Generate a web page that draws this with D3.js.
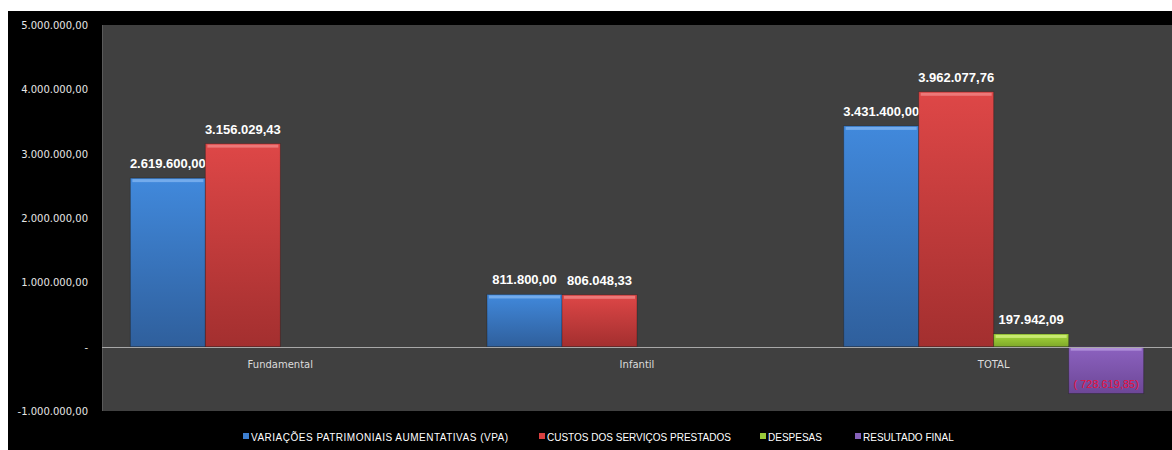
<!DOCTYPE html>
<html>
<head>
<meta charset="utf-8">
<script src="https://cdn.jsdelivr.net/npm/d3@7"></script>
<style>
  html, body { margin: 0; padding: 0; background: #fff; }
  svg { display: block; }
</style>
</head>
<body>
<svg id="chart" width="1172" height="450"></svg>
<script>
const categories = ["Fundamental", "Infantil", "TOTAL"];
const seriesNames = [
  "VARIAÇÕES PATRIMONIAIS AUMENTATIVAS (VPA)",
  "CUSTOS DOS SERVIÇOS PRESTADOS",
  "DESPESAS",
  "RESULTADO FINAL"
];
const vpa = [2619600.00, 811800.00, 3431400.00];
const custos = [3156029.43, 806048.33, 3962077.76];
const despesas = [null, null, 197942.09];
const resultado = [null, null, -728619.85];
const yTicks = [-1000000, 0, 1000000, 2000000, 3000000, 4000000, 5000000];

(() => {
  const width = 1172;
  const height = 450;
  const plot = { left: 102, right: 1172, top: 25, bottom: 411 };

  const colors = [
    { top: "#4189dc", bottom: "#2f5f9c", edge: "#7fb4f0", key: "#3d7fd0" },
    { top: "#de4747", bottom: "#a32f2f", edge: "#f08585", key: "#d84040" },
    { top: "#a6d93b", bottom: "#7fa82a", edge: "#d2f07e", key: "#98c93a" },
    { top: "#8c62c0", bottom: "#6d4797", edge: "#b89ae0", key: "#8560b8" }
  ];

  const allSeries = [vpa, custos, despesas, resultado];

  const svg = d3.select("#chart");
  const defs = svg.append("defs");

  colors.forEach((c, i) => {
    const grad = defs.append("linearGradient")
      .attr("id", "grad" + i)
      .attr("x1", 0).attr("y1", 0).attr("x2", 0).attr("y2", 1);
    grad.append("stop").attr("offset", "0%").attr("stop-color", c.top);
    grad.append("stop").attr("offset", "100%").attr("stop-color", c.bottom);
  });

  // chart background
  svg.append("rect")
    .attr("x", 8).attr("y", 11)
    .attr("width", width - 8).attr("height", height - 11)
    .attr("fill", "#000");

  svg.append("rect")
    .attr("x", plot.left).attr("y", plot.top)
    .attr("width", plot.right - plot.left).attr("height", plot.bottom - plot.top)
    .attr("fill", "#404040");

  svg.append("line")
    .attr("x1", plot.left + 0.5).attr("x2", plot.left + 0.5)
    .attr("y1", plot.top).attr("y2", plot.bottom)
    .attr("stroke", "#5a5a5a");

  const y = d3.scaleLinear()
    .domain([-1000000, 5000000])
    .range([plot.bottom, plot.top]);

  const x = d3.scaleBand()
    .domain(categories)
    .range([plot.left, plot.right]);

  const groupPad = x.bandwidth() * 0.0795;
  const xs = d3.scaleBand()
    .domain(d3.range(seriesNames.length))
    .range([groupPad, x.bandwidth() - groupPad]);

  const fmt = v => {
    const s = d3.format(",.2f")(Math.abs(v))
      .replace(/,/g, "#").replace(".", ",").replace(/#/g, ".");
    return v < 0 ? "( " + s + ")" : s;
  };

  // y axis labels
  svg.append("g")
    .selectAll("text")
    .data(yTicks)
    .join("text")
    .attr("x", 88)
    .attr("y", d => y(d) + 4)
    .attr("text-anchor", "end")
    .attr("fill", "#e6e6e6")
    .style("font-family", "DejaVu Sans, sans-serif")
    .style("font-size", "10px")
    .text(d => d === 0 ? "-" : (d < 0 ? "-" : "") + fmt(Math.abs(d)));

  // bars
  allSeries.forEach((vals, si) => {
    const data = categories.map((c, ci) => ({ cat: c, v: vals[ci] }))
      .filter(d => d.v !== null);

    const g = svg.append("g");

    g.selectAll("rect.bar")
      .data(data)
      .join("rect")
      .attr("class", "bar")
      .attr("x", d => x(d.cat) + xs(si))
      .attr("y", d => y(Math.max(0, d.v)))
      .attr("width", xs.bandwidth())
      .attr("height", d => Math.abs(y(d.v) - y(0)))
      .attr("fill", `url(#grad${si})`)
      .attr("stroke", "rgba(0,0,0,0.25)")
      .attr("stroke-width", 1);

    // bevel highlight on the top edge
    g.selectAll("rect.edge")
      .data(data)
      .join("rect")
      .attr("class", "edge")
      .attr("x", d => x(d.cat) + xs(si) + 2)
      .attr("y", d => y(Math.max(0, d.v)) + 1)
      .attr("width", xs.bandwidth() - 4)
      .attr("height", 3)
      .attr("fill", colors[si].edge)
      .attr("opacity", 0.8);

    g.selectAll("text")
      .data(data)
      .join("text")
      .attr("x", d => x(d.cat) + xs(si) + xs.bandwidth() / 2)
      .attr("y", d => d.v >= 0 ? y(d.v) - 10 : y(d.v) - 6)
      .attr("text-anchor", "middle")
      .attr("fill", d => d.v >= 0 ? "#ffffff" : "#e8103c")
      .style("font-family", "Liberation Sans, Arial, sans-serif")
      .style("font-size", d => d.v >= 0 ? "13px" : "11px")
      .style("font-weight", d => d.v >= 0 ? "bold" : "normal")
      .text(d => fmt(d.v));
  });

  // zero line
  svg.append("line")
    .attr("x1", plot.left).attr("x2", plot.right)
    .attr("y1", Math.round(y(0)) + 0.5).attr("y2", Math.round(y(0)) + 0.5)
    .attr("stroke", "#a8a8a8")
    .attr("stroke-width", 1);

  // category labels
  svg.append("g")
    .selectAll("text")
    .data(categories)
    .join("text")
    .attr("x", d => x(d) + x.bandwidth() / 2)
    .attr("y", y(0) + 21)
    .attr("text-anchor", "middle")
    .attr("fill", "#dcdcdc")
    .style("font-family", "DejaVu Sans, sans-serif")
    .style("font-size", "10px")
    .text(d => d);

  // legend
  const legendX = [243, 539, 760, 855];
  const legend = svg.append("g")
    .selectAll("g")
    .data(seriesNames)
    .join("g")
    .attr("transform", (d, i) => `translate(${legendX[i]}, 437)`);

  legend.append("rect")
    .attr("x", 0).attr("y", -4)
    .attr("width", 6).attr("height", 6)
    .attr("fill", (d, i) => colors[i].key);

  legend.append("text")
    .attr("x", 8)
    .attr("y", 3.5)
    .attr("fill", "#ffffff")
    .style("font-family", "Liberation Sans, Arial, sans-serif")
    .style("font-size", "10px")
    .style("letter-spacing", (d, i) => i === 0 ? "0.5px" : "0px")
    .text(d => d);
})();
</script>
</body>
</html>
